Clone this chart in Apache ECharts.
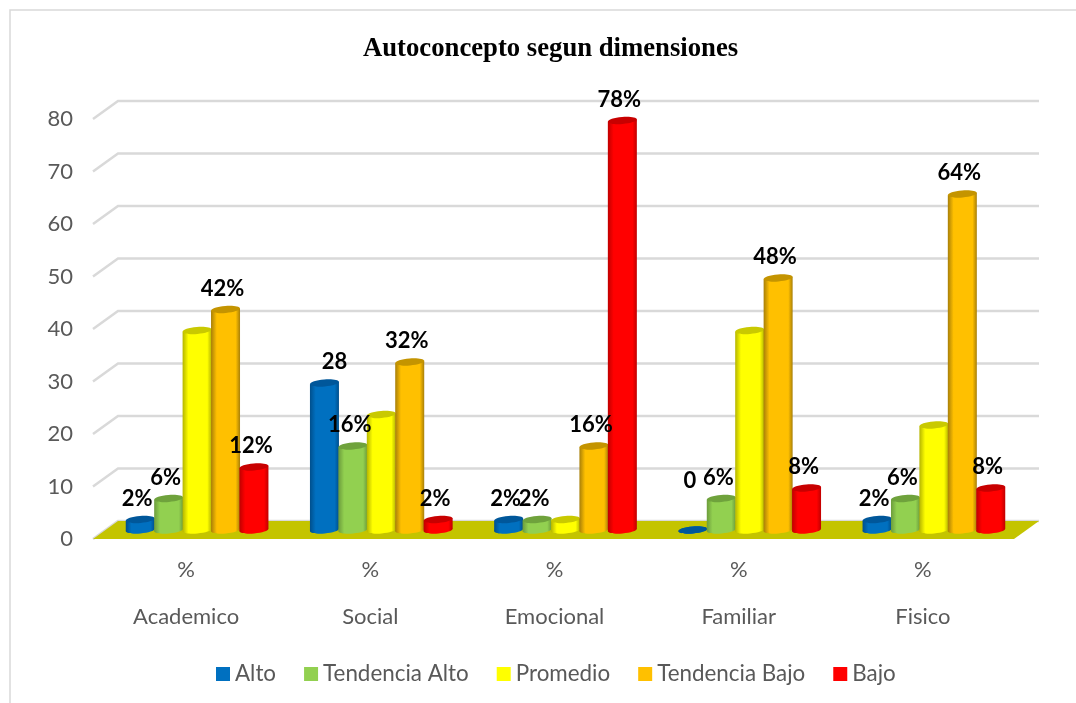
<!DOCTYPE html>
<html>
<head>
<meta charset="utf-8">
<style>
  html, body { margin: 0; padding: 0; background: #fff; }
  #chart { width: 1076px; height: 703px; }
</style>
</head>
<body>
<div id="chart"></div>
<script src="https://cdn.jsdelivr.net/npm/echarts@6/dist/echarts.min.js"></script>
<script>
const categories = ['Academico', 'Social', 'Emocional', 'Familiar', 'Fisico']
const unitLabels = ['%', '%', '%', '%', '%']
const yTicks = [0, 10, 20, 30, 40, 50, 60, 70, 80]

const seriesNames = ['Alto', 'Tendencia Alto', 'Promedio', 'Tendencia Bajo', 'Bajo']
const alto = [2, 28, 2, 0, 2]
const tendenciaAlto = [6, 16, 2, 6, 6]
const promedio = [38, 22, 2, 38, 20]
const tendenciaBajo = [42, 32, 16, 48, 64]
const bajo = [12, 2, 78, 8, 8]

const altoLabels = ['2%', '28', '2%', '0', '2%']
const tendenciaAltoLabels = ['6%', '16%', '2%', '6%', '6%']
const promedioLabels = [null, null, null, null, null]
const tendenciaBajoLabels = ['42%', '32%', '16%', '48%', '64%']
const bajoLabels = ['12%', '2%', '78%', '8%', '8%']

const colors = ['#0070c0', '#92d050', '#ffff00', '#ffc000', '#ff0000']
const lidColors = ['#00579a', '#6fa23c', '#c9c900', '#c49400', '#c80000']
const edgeColors = ['#004f8c', '#6c9c3c', '#b5b500', '#a87f08', '#c00000']

// depth of the fake 3d box, the bars stand about half way in
const depthX = 25
const depthY = 18
const barDx = 12
const barDy = 9
const tilt = 0.08

const valueSets = [alto, tendenciaAlto, promedio, tendenciaBajo, bajo]
const labelSets = [altoLabels, tendenciaAltoLabels, promedioLabels, tendenciaBajoLabels, bajoLabels]

function renderFloor(params, api) {
  const cs = params.coordSys
  const y0 = api.coord([0, 0])[1]
  return {
    type: 'polygon',
    shape: {
      points: [
        [cs.x, y0],
        [cs.x + cs.width, y0],
        [cs.x + cs.width + depthX, y0 - depthY],
        [cs.x + depthX, y0 - depthY]
      ]
    },
    style: { fill: '#c4c400' }
  }
}

function renderWall(params, api) {
  const cs = params.coordSys
  const y = api.coord([0, api.value(0)])[1]
  return {
    type: 'polyline',
    shape: {
      points: [
        [cs.x, y],
        [cs.x + depthX, y - depthY],
        [cs.x + cs.width + depthX, y - depthY]
      ]
    },
    style: { stroke: '#d9d9d9', lineWidth: 2.5, fill: null }
  }
}

function renderBar(s) {
  return function (params, api) {
    const cat = api.value(0)
    const val = api.value(1)
    const band = api.size([1, 0])[0]
    const step = band * 0.1543
    const rx = 14.5
    const ry = 3.5
    const x = api.coord([cat, 0])[0] + barDx + (s - 2) * step
    const yBase = api.coord([cat, 0])[1] - barDy
    const yTop = api.coord([cat, val])[1] - barDy
    const lift = rx * Math.sin(tilt)
    const fill = new echarts.graphic.LinearGradient(0, 0, 1, 0, [
      { offset: 0, color: edgeColors[s] },
      { offset: 0.2, color: colors[s] },
      { offset: 0.85, color: colors[s] },
      { offset: 1, color: edgeColors[s] }
    ])
    const children = [
      {
        type: 'ellipse',
        shape: { cx: x, cy: yBase, rx: rx, ry: ry },
        rotation: tilt,
        originX: x,
        originY: yBase,
        style: { fill: fill }
      },
      {
        type: 'polygon',
        shape: {
          points: [
            [x - rx, yTop + lift],
            [x + rx, yTop - lift],
            [x + rx, yBase - lift],
            [x - rx, yBase + lift]
          ]
        },
        style: { fill: fill }
      },
      {
        type: 'ellipse',
        shape: { cx: x, cy: yTop, rx: rx, ry: ry },
        rotation: tilt,
        originX: x,
        originY: yTop,
        style: { fill: lidColors[s] }
      }
    ]
    const text = labelSets[s][cat]
    if (text !== null) {
      let tx = x - 3
      let ty = yTop - 21
      // two labels were dragged away from their bars in the original
      if (text === '28') tx = x + 10
      if (text === '0') ty = yTop - 49
      children.push({
        type: 'text',
        z2: 100,
        style: {
          x: tx,
          y: ty,
          text: text,
          fill: '#000',
          font: 'bold 22px Lato',
          align: 'center',
          verticalAlign: 'middle'
        }
      })
    }
    return { type: 'group', children: children }
  }
}

const chart = echarts.init(document.getElementById('chart'))

const barSeries = seriesNames.map(function (name, s) {
  return {
    name: name,
    type: 'custom',
    xAxisIndex: 0,
    clip: false,
    itemStyle: { color: colors[s] },
    encode: { x: 0, y: 1 },
    renderItem: renderBar(s),
    data: valueSets[s].map(function (v, i) { return [i, v] })
  }
})

const option = {
  backgroundColor: '#fff',
  animation: false,
  title: {
    text: 'Autoconcepto segun dimensiones',
    left: 358,
    top: 31,
    textStyle: {
      fontFamily: 'Liberation Serif',
      fontWeight: 'bold',
      fontSize: 26.7,
      color: '#000'
    }
  },
  graphic: [
    {
      type: 'rect',
      shape: { x: 10, y: 10, width: 1100, height: 760 },
      style: { fill: 'none', stroke: '#d9d9d9', lineWidth: 1.5 },
      silent: true
    }
  ],
  legend: {
    data: seriesNames,
    top: 658,
    left: 211,
    itemWidth: 14,
    itemHeight: 14,
    itemGap: 28,
    icon: 'rect',
    textStyle: { fontFamily: 'Lato', fontSize: 22.4, color: '#595959' }
  },
  grid: { left: 93, right: 62, top: 119, bottom: 164 },
  xAxis: [
    {
      type: 'category',
      data: categories,
      position: 'bottom',
      offset: 0,
      axisLine: { show: false },
      axisTick: { show: false },
      axisLabel: { fontFamily: 'Lato', fontSize: 22, color: '#595959', margin: 67, padding: [0, 0, 0, 2] }
    },
    {
      type: 'category',
      data: unitLabels,
      position: 'bottom',
      axisLine: { show: false },
      axisTick: { show: false },
      axisLabel: { fontFamily: 'Lato', fontSize: 22, color: '#595959', margin: 20, padding: [0, 0, 0, 2] }
    }
  ],
  yAxis: {
    type: 'value',
    min: 0,
    max: 80,
    interval: 10,
    axisLine: { show: false },
    axisTick: { show: false },
    splitLine: { show: false },
    axisLabel: { fontFamily: 'Lato', fontSize: 22, color: '#595959', margin: 20, padding: [8, 0, 0, 0] }
  },
  series: [
    {
      type: 'custom',
      silent: true,
      z: 1,
      renderItem: renderWall,
      encode: { y: 0 },
      clip: false,
      data: yTicks.map(function (t) { return [t] })
    },
    {
      type: 'custom',
      silent: true,
      z: 1,
      renderItem: renderFloor,
      clip: false,
      data: [[0]]
    }
  ].concat(barSeries)
}

chart.setOption(option)
</script>
</body>
</html>
